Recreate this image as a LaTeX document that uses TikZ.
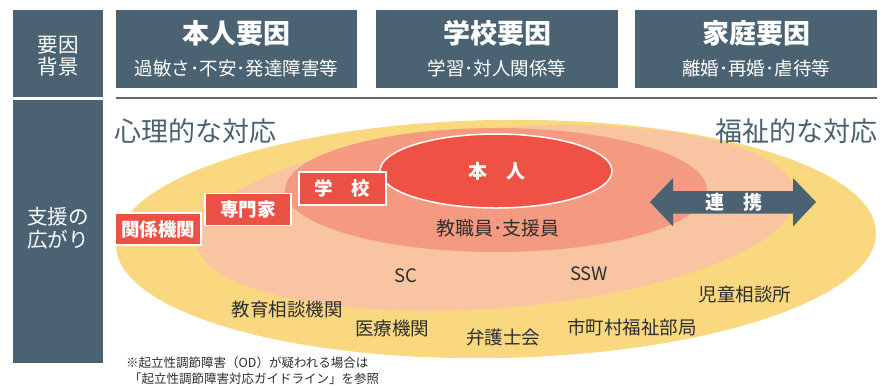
\documentclass[tikz,border=0pt]{standalone}
\usepackage{fontspec}
\setmainfont{Noto Sans CJK JP}
\definecolor{slate}{HTML}{4A6271}
\definecolor{ylw}{HTML}{F9D87F}
\definecolor{peach}{HTML}{F9C4A2}
\definecolor{salmon}{HTML}{F39A80}
\definecolor{core}{HTML}{EF5244}
\definecolor{boxred}{HTML}{EC5146}
\definecolor{txt}{HTML}{2E2E2E}
\definecolor{rulec}{HTML}{5E6B73}
\newcommand{\fs}[1]{\fontsize{#1}{#1}\selectfont}
\tikzset{
  hbox/.style={fill=slate, inner sep=0pt},
  ttl/.style={text=white, font=\fs{27}\bfseries, inner sep=0pt},
  sub/.style={text=white, font=\fs{18.5}, inner sep=0pt},
  side/.style={text=white, font=\fs{20.5}, align=center, inner sep=0pt},
  big/.style={text=slate, font=\fs{27}, inner sep=0pt},
  lbl/.style={text=txt, font=\fs{18.5}, inner sep=0pt},
  redbox/.style={fill=boxred, draw=white, line width=1.5pt, text=white, font=\fs{18.5}\bfseries, inner sep=0pt, minimum height=32pt, minimum width=86pt},
  wtxt/.style={text=white, font=\fs{19}\bfseries, inner sep=0pt},
  note/.style={text=txt, font=\fs{12.5}, inner sep=0pt, anchor=west}
}
\begin{document}
\begin{tikzpicture}[x=1pt,y=-1pt]
\useasboundingbox (0,0) rectangle (882,386);
\fill[white] (0,0) rectangle (882,386);
% left column
\node[hbox, minimum width=90pt, minimum height=87pt] (lt) at (58,53.5) {};
\node[hbox, minimum width=90pt, minimum height=263pt] (lb) at (58,231.5) {};
\node[side] (ltt) at (58,56) {要因\\[2pt]背景};
\node[side] (lbt) at (58,228) {支援の\\[2pt]広がり};
% headers
\node[hbox, minimum width=241pt, minimum height=78pt] (h1) at (236.5,49) {};
\node[hbox, minimum width=242pt, minimum height=78pt] (h2) at (497,49) {};
\node[hbox, minimum width=242pt, minimum height=78pt] (h3) at (756,49) {};
\node[ttl] (t1) at (236.5,33) {本人要因};
\node[ttl] (t2) at (497,33) {学校要因};
\node[ttl] (t3) at (756,33) {家庭要因};
\node[sub] (s1) at (236.5,68) {過敏さ･不安･発達障害等};
\node[sub] (s2) at (497,68) {学習･対人関係等};
\node[sub] (s3) at (756,68) {離婚･再婚･虐待等};
\coordinate (ra) at (116,98);
\coordinate (rb) at (877,98);
\draw[rulec, line width=2.5pt] (ra) -- (rb);
% ellipses
\fill[ylw, rotate around={1:(496,239)}] (496,239) ellipse [x radius=380, y radius=119];
\fill[peach, rotate around={4.5:(496,218)}] (496,218) ellipse [x radius=301, y radius=90];
\fill[salmon] (496,190) ellipse [x radius=211, y radius=62];
\fill[core, draw=white, line width=1.5pt] (496,171) ellipse [x radius=116, y radius=37];
% titles
\node[big, anchor=west] (psy) at (114,131) {心理的な対応};
\node[big, anchor=east] (wel) at (878,131) {福祉的な対応};
% red boxes
\node[redbox, minimum width=87pt, minimum height=33pt] (gakko) at (342.5,188.5) {学　校};
\node[redbox] (senmon) at (248,209.5) {専門家};
\node[redbox] (kankei) at (158,229) {関係機関};
\node[wtxt] (honnin) at (497,171) {本　人};
% arrow
\fill[slate] (650,202) -- (673,178) -- (673,191) -- (793,191) -- (793,178) -- (816,202)
  -- (793,226.5) -- (793,213.5) -- (673,213.5) -- (673,226.5) -- cycle;
\node[wtxt] (renkei) at (734,202) {連　携};
% labels
\node[lbl, font=\fs{19}] (kyo) at (498,228) {教職員･支援員};
\node[lbl] (sc) at (406,276) {SC};
\node[lbl] (ssw) at (589,274) {SSW};
\node[lbl] (kyoiku) at (287,309) {教育相談機関};
\node[lbl] (iryo) at (392,328) {医療機関};
\node[lbl] (bengo) at (503,337) {弁護士会};
\node[lbl] (shicho) at (632,327) {市町村福祉部局};
\node[lbl] (jido) at (745,295) {児童相談所};
% footnote
\node[note] (n1) at (126,363) {※起立性調節障害（OD）が疑われる場合は};
\node[note] (n2) at (129,379) {「起立性調節障害対応ガイドライン」を参照};
\end{tikzpicture}
\end{document}
